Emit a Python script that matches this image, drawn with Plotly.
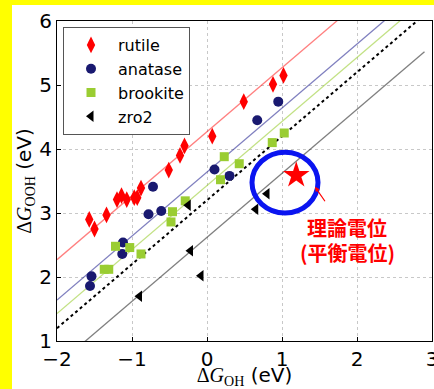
import plotly.graph_objects as go

# ---- data ----
rutile_x = [-1.57, -1.50, -1.34, -1.20, -1.14, -1.07, -0.97, -0.93, -0.88, -0.51, -0.36, -0.30, 0.07, 0.49, 0.88, 1.02]
rutile_y = [2.90, 2.75, 2.97, 3.21, 3.27, 3.21, 3.24, 3.24, 3.39, 3.67, 3.90, 4.05, 4.20, 4.74, 5.01, 5.15]

anatase_x = [-1.56, -1.54, -1.13, -1.12, -0.78, -0.72, -0.61, 0.10, 0.30, 0.67, 0.95]
anatase_y = [1.86, 2.01, 2.36, 2.54, 2.98, 3.41, 3.03, 3.68, 3.58, 4.45, 4.74]

brookite_x = [-1.37, -1.31, -1.22, -1.03, -0.88, -0.48, -0.46, -0.29, 0.18, 0.23, 0.43, 0.87, 1.03]
brookite_y = [2.12, 2.12, 2.48, 2.46, 2.36, 2.86, 3.02, 3.19, 3.52, 3.88, 3.77, 4.10, 4.25]

zro2_x = [-0.90, -0.22, -0.08, -0.25, 0.65, 0.80]
zro2_y = [1.70, 2.41, 2.02, 3.12, 3.06, 3.30]

# scaling lines: dG_OOH = dG_OH + intercept
line_names = ["rutile fit", "anatase fit", "brookite fit", "ideal", "zro2 fit"]
line_intercepts = [4.27, 3.64, 3.43, 3.20, 2.62]
line_x = [-2.0, 2.9]

ideal_x = [1.19]
ideal_y = [3.59]

x_ticks = [-2, -1, 0, 1, 2, 3]
y_ticks = [1, 2, 3, 4, 5, 6]

# ---- styles ----
line_styles = [
    dict(color="rgba(255,0,0,0.5)", width=1.3),
    dict(color="rgba(0,0,128,0.5)", width=1.3),
    dict(color="rgba(154,205,50,0.6)", width=1.3),
    dict(color="black", width=2, dash="dot"),
    dict(color="rgba(0,0,0,0.5)", width=1.3),
]

fig = go.Figure()

for name, b, st in zip(line_names, line_intercepts, line_styles):
    fig.add_trace(go.Scatter(x=line_x, y=[xx + b for xx in line_x], mode="lines",
                             line=st, showlegend=False, hoverinfo="skip"))

fig.add_trace(go.Scatter(x=rutile_x, y=rutile_y, mode="markers", name="rutile",
                         marker=dict(symbol="diamond-tall", size=12, color="red", line=dict(width=0))))
fig.add_trace(go.Scatter(x=anatase_x, y=anatase_y, mode="markers", name="anatase",
                         marker=dict(symbol="circle", size=10, color="#191970", line=dict(width=0))))
fig.add_trace(go.Scatter(x=brookite_x, y=brookite_y, mode="markers", name="brookite",
                         marker=dict(symbol="square", size=9, color="#9acd32", line=dict(width=0))))
fig.add_trace(go.Scatter(x=zro2_x, y=zro2_y, mode="markers", name="zro2",
                         marker=dict(symbol="triangle-left", size=10, color="black", line=dict(width=0))))

fig.add_trace(go.Scatter(x=ideal_x, y=ideal_y, mode="markers", showlegend=False,
                         marker=dict(symbol="star", size=20, color="red", line=dict(width=0))))

# ellipse around the ideal point
fig.add_shape(type="circle", xref="x", yref="y", x0=0.60, x1=1.48, y0=3.0, y1=3.95,
              line=dict(color="#0a14f0", width=5))

# yellow frame strips (slide background)
PX_L, PX_R, PX_T, PX_B = 57, 432, 21, 341
W, H = 434, 389
def px2paper_x(px):
    return (px - PX_L) / (PX_R - PX_L)
def px2paper_y(py):
    return (PX_B - py) / (PX_B - PX_T)

fig.add_shape(type="rect", xref="paper", yref="paper", layer="below",
              x0=px2paper_x(0), x1=px2paper_x(12), y0=px2paper_y(H), y1=px2paper_y(0),
              fillcolor="#ffff00", line=dict(width=0))
fig.add_shape(type="rect", xref="paper", yref="paper", layer="below",
              x0=px2paper_x(0), x1=px2paper_x(W), y0=px2paper_y(5), y1=px2paper_y(0),
              fillcolor="#ffff00", line=dict(width=0))

cjk = "Noto Sans CJK JP"
fig.add_annotation(x=1.44, y=3.41, ax=11, ay=16, xref="x", yref="y",
                   showarrow=True, arrowhead=2, arrowsize=0.8, arrowwidth=1.2,
                   arrowcolor="red", text="")
fig.add_annotation(x=1.87, y=2.78, xref="x", yref="y", showarrow=False,
                   text="<b>理論電位</b>", font=dict(family=cjk, size=20, color="red"))
fig.add_annotation(x=1.87, y=2.39, xref="x", yref="y", showarrow=False,
                   text="<b>(平衡電位)</b>", font=dict(family=cjk, size=20, color="red"))

serif = "'Liberation Serif'"
xlabel = f'<span style="font-family:{serif}">Δ<i>G</i><sub>OH</sub></span> (eV)'
ylabel = f'<span style="font-family:{serif}">Δ<i>G</i><sub>OOH</sub></span> (eV)'

axis_common = dict(showgrid=True, gridcolor="#c8c8c8", griddash="dot", gridwidth=1,
                   showline=True, linecolor="black", linewidth=1, mirror=True,
                   ticks="inside", ticklen=4, tickcolor="black", zeroline=False,
                   ticklabeloverflow="allow", automargin=False,
                   tickfont=dict(family="DejaVu Sans", size=20, color="black"))

fig.update_layout(
    width=W, height=H,
    margin=dict(l=PX_L, r=W - PX_R, t=PX_T, b=H - PX_B, autoexpand=False),
    paper_bgcolor="white", plot_bgcolor="white",
    font=dict(family="DejaVu Sans", color="black"),
    xaxis=dict(range=[-2, 3], tickvals=x_ticks, title=dict(text=xlabel, font=dict(size=20), standoff=5),
               **axis_common),
    yaxis=dict(range=[1, 6], tickvals=y_ticks, title=dict(text=ylabel, font=dict(size=20), standoff=2),
               **axis_common),
    legend=dict(x=px2paper_x(63), y=px2paper_y(27), xanchor="left", yanchor="top",
                bgcolor="white", bordercolor="#555555", borderwidth=1,
                font=dict(family="DejaVu Sans", size=16, color="black"),
                itemwidth=44, tracegroupgap=0),
    showlegend=True,
)

fig.write_html("out.html")
